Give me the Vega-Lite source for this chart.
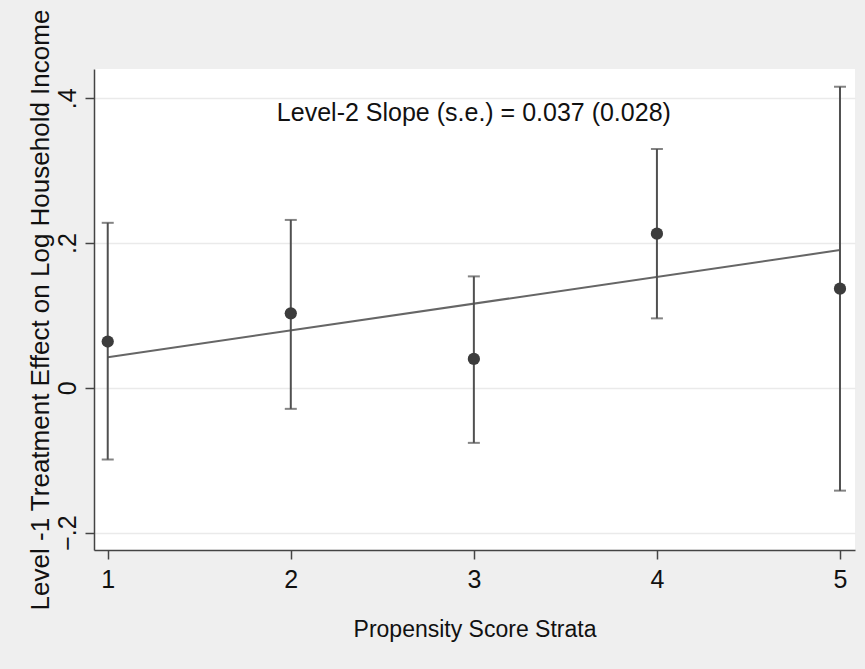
{
  "$schema": "https://vega.github.io/schema/vega-lite/v6.json",
  "autosize": {"type": "none"},
  "width": 761,
  "height": 481,
  "padding": {"left": 94, "top": 69, "right": 10, "bottom": 119},
  "background": "#efefef",
  "config": {
    "view": {"stroke": null, "fill": "white"},
    "font": "Liberation Sans",
    "axis": {
      "labelFont": "Liberation Sans",
      "titleFont": "Liberation Sans",
      "labelColor": "#111111",
      "titleColor": "#111111",
      "titleFontWeight": "normal",
      "domainColor": "#444444",
      "domainWidth": 1.5,
      "tickColor": "#444444",
      "tickWidth": 1.5,
      "tickSize": 9
    }
  },
  "datasets": {
    "est": [
      {"stratum": 1, "effect": 0.064, "lo": -0.099, "hi": 0.228},
      {"stratum": 2, "effect": 0.103, "lo": -0.029, "hi": 0.232},
      {"stratum": 3, "effect": 0.040, "lo": -0.076, "hi": 0.154},
      {"stratum": 4, "effect": 0.213, "lo": 0.096, "hi": 0.330},
      {"stratum": 5, "effect": 0.137, "lo": -0.142, "hi": 0.416}
    ],
    "fit": [
      {"stratum": 1, "fit": 0.0423},
      {"stratum": 5, "fit": 0.1903}
    ],
    "note": [
      {"stratum": 3, "y": 0.368, "label": "Level-2 Slope  (s.e.) = 0.037 (0.028)"}
    ]
  },
  "layer": [
    {
      "data": {"name": "fit"},
      "mark": {"type": "line", "color": "#666666", "strokeWidth": 2},
      "encoding": {
        "x": {
          "field": "stratum", "type": "quantitative",
          "scale": {"domain": [0.925, 5.082], "nice": false, "zero": false},
          "axis": {
            "values": [1, 2, 3, 4, 5], "format": "d", "grid": false,
            "title": "Propensity Score Strata",
            "labelFontSize": 25, "labelPadding": 8,
            "titleFontSize": 23, "titlePadding": 26
          }
        },
        "y": {
          "field": "fit", "type": "quantitative",
          "scale": {"domain": [-0.224, 0.4405], "nice": false, "zero": false},
          "axis": {
            "values": [-0.2, 0, 0.2, 0.4],
            "labelExpr": "datum.value == 0 ? '0' : replace(format(datum.value, '.1f'), '0.', '.')",
            "labelAngle": -90,
            "labelFontSize": 25, "labelPadding": 5,
            "grid": true, "gridColor": "#eaeaea", "gridWidth": 1.5,
            "title": "Level -1 Treatment Effect on Log Household Income",
            "titleFontSize": 26, "titlePadding": 2
          }
        }
      }
    },
    {
      "data": {"name": "est"},
      "mark": {"type": "rule", "color": "#505050", "strokeWidth": 2},
      "encoding": {
        "x": {"field": "stratum", "type": "quantitative"},
        "y": {"field": "lo", "type": "quantitative"},
        "y2": {"field": "hi"}
      }
    },
    {
      "data": {"name": "est"},
      "mark": {"type": "tick", "orient": "horizontal", "color": "#505050", "size": 12, "thickness": 2},
      "encoding": {
        "x": {"field": "stratum", "type": "quantitative"},
        "y": {"field": "lo", "type": "quantitative"}
      }
    },
    {
      "data": {"name": "est"},
      "mark": {"type": "tick", "orient": "horizontal", "color": "#505050", "size": 12, "thickness": 2},
      "encoding": {
        "x": {"field": "stratum", "type": "quantitative"},
        "y": {"field": "hi", "type": "quantitative"}
      }
    },
    {
      "data": {"name": "est"},
      "mark": {"type": "point", "filled": true, "color": "#3c3c3c", "opacity": 1, "size": 150},
      "encoding": {
        "x": {"field": "stratum", "type": "quantitative"},
        "y": {"field": "effect", "type": "quantitative"}
      }
    },
    {
      "data": {"name": "note"},
      "mark": {"type": "text", "fontSize": 25, "font": "Liberation Sans", "color": "#111111", "align": "center", "baseline": "alphabetic"},
      "encoding": {
        "x": {"field": "stratum", "type": "quantitative"},
        "y": {"field": "y", "type": "quantitative"},
        "text": {"field": "label"}
      }
    }
  ]
}
